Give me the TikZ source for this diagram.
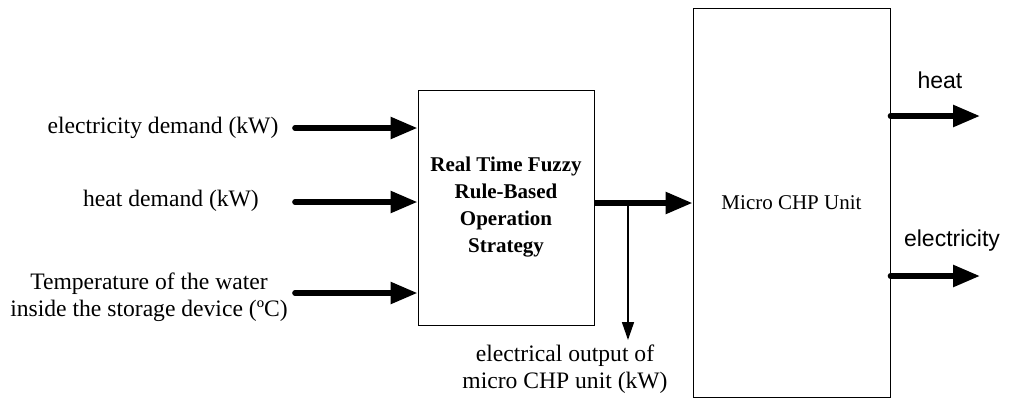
\documentclass[tikz,border=0pt]{standalone}
\usepackage{fontspec}
\setmainfont{Liberation Serif}
\newfontfamily\arialfont{Liberation Sans}
\usetikzlibrary{arrows.meta,positioning,calc}
\tikzset{
  block/.style={draw,line width=0.5pt,inner sep=0pt,align=center},
  flow/.style={-{Triangle[length=13.5pt,width=10.5pt]},line width=2.8pt,line cap=round},
  tap/.style={-{Triangle[length=9pt,width=6pt]},line width=0.8pt},
  lbl/.style={align=center,inner sep=0pt,font=\fontsize{11.8}{13.5}\selectfont},
  outlbl/.style={inner sep=0pt,font=\arialfont\fontsize{11.5}{13}\selectfont}
}

\begin{document}
\begin{tikzpicture}[x=0.5pt,y=-0.5pt]
    \useasboundingbox (0,0) rectangle (1009,403);
    % blocks
    \node[block,minimum width=88pt,minimum height=117.5pt,font=\bfseries\fontsize{10.5}{13.5}\selectfont] (frb) at (506,207.5) {Real Time Fuzzy\\Rule-Based\\Operation\\Strategy};
    \node[block,minimum width=98.5pt,minimum height=194.5pt,font=\fontsize{10.5}{12}\selectfont] (chp) at (791.5,202.5) {Micro CHP Unit};
    % inputs
    \node[lbl] (elecin) at (163,128) {electricity demand (kW)};
    \node[lbl] (heatin) at (171,201) {heat demand (kW)};
    \node[lbl] (tempin) at (149,297) {Temperature of the water\\inside the storage device (ºC)};
    \foreach \n/\y in {elecin/128,heatin/202,tempin/293}{
      \coordinate (\n-s) at (295,\y);
      \draw[flow] (\n-s) -- (\n-s -| frb.west);
    }
    % control signal
    \coordinate (split) at (628,203);
    \draw[flow,line cap=butt] (split -| frb.east) -- (split -| chp.west);
    \node[lbl] (elout) at (565,369) {electrical output of\\micro CHP unit (kW)};
    \coordinate (tapend) at (628,340);
    \draw[tap] (split) -- (tapend);
    % outputs
    \coordinate (heatend) at (980,116);
    \coordinate (elecend) at (980,276);
    \draw[flow] (heatend -| chp.east) -- (heatend);
    \draw[flow] (elecend -| chp.east) -- (elecend);
    \node[outlbl] (heatout) at (940,80) {heat};
    \node[outlbl] (elecout) at (952,241) {electricity};
\end{tikzpicture}
\end{document}
